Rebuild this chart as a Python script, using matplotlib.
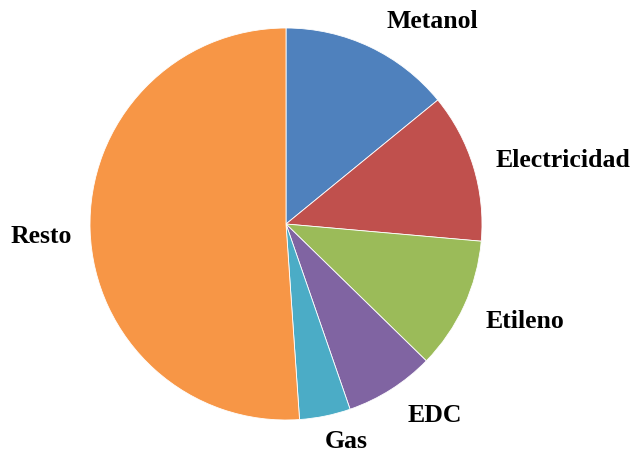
import matplotlib
matplotlib.use("Agg")
import matplotlib.pyplot as plt

categories = ["Metanol", "Electricidad", "Etileno", "EDC", "Gas", "Resto"]
values = [14.1, 12.3, 10.9, 7.4, 4.2, 51.1]
colors = ["#4F81BD", "#C0504D", "#9BBB59", "#8064A2", "#4BACC6", "#F79646"]
# label centres in pixels (x from left, y from top)
label_pos = [(432, 22), (563, 160), (525, 321), (435, 415), (346, 442), (41, 236)]

W, H = 631, 455
fig = plt.figure(figsize=(W / 100, H / 100), dpi=100)
cx, cy, r = 286, 224, 196
ax = fig.add_axes([(cx - r) / W, (H - cy - r) / H, 2 * r / W, 2 * r / H])
ax.pie(values, colors=colors, startangle=90, counterclock=False,
       wedgeprops=dict(linewidth=0.6, edgecolor="white"))
ax.set_xlim(-1, 1)
ax.set_ylim(-1, 1)
ax.set_aspect("equal")
ax.axis("off")

for name, (x, y) in zip(categories, label_pos):
    fig.text(x / W, 1 - y / H, name, ha="center", va="center",
             fontsize=18.5, fontweight="bold", family="Liberation Serif")

fig.savefig("out.png", dpi=100)
